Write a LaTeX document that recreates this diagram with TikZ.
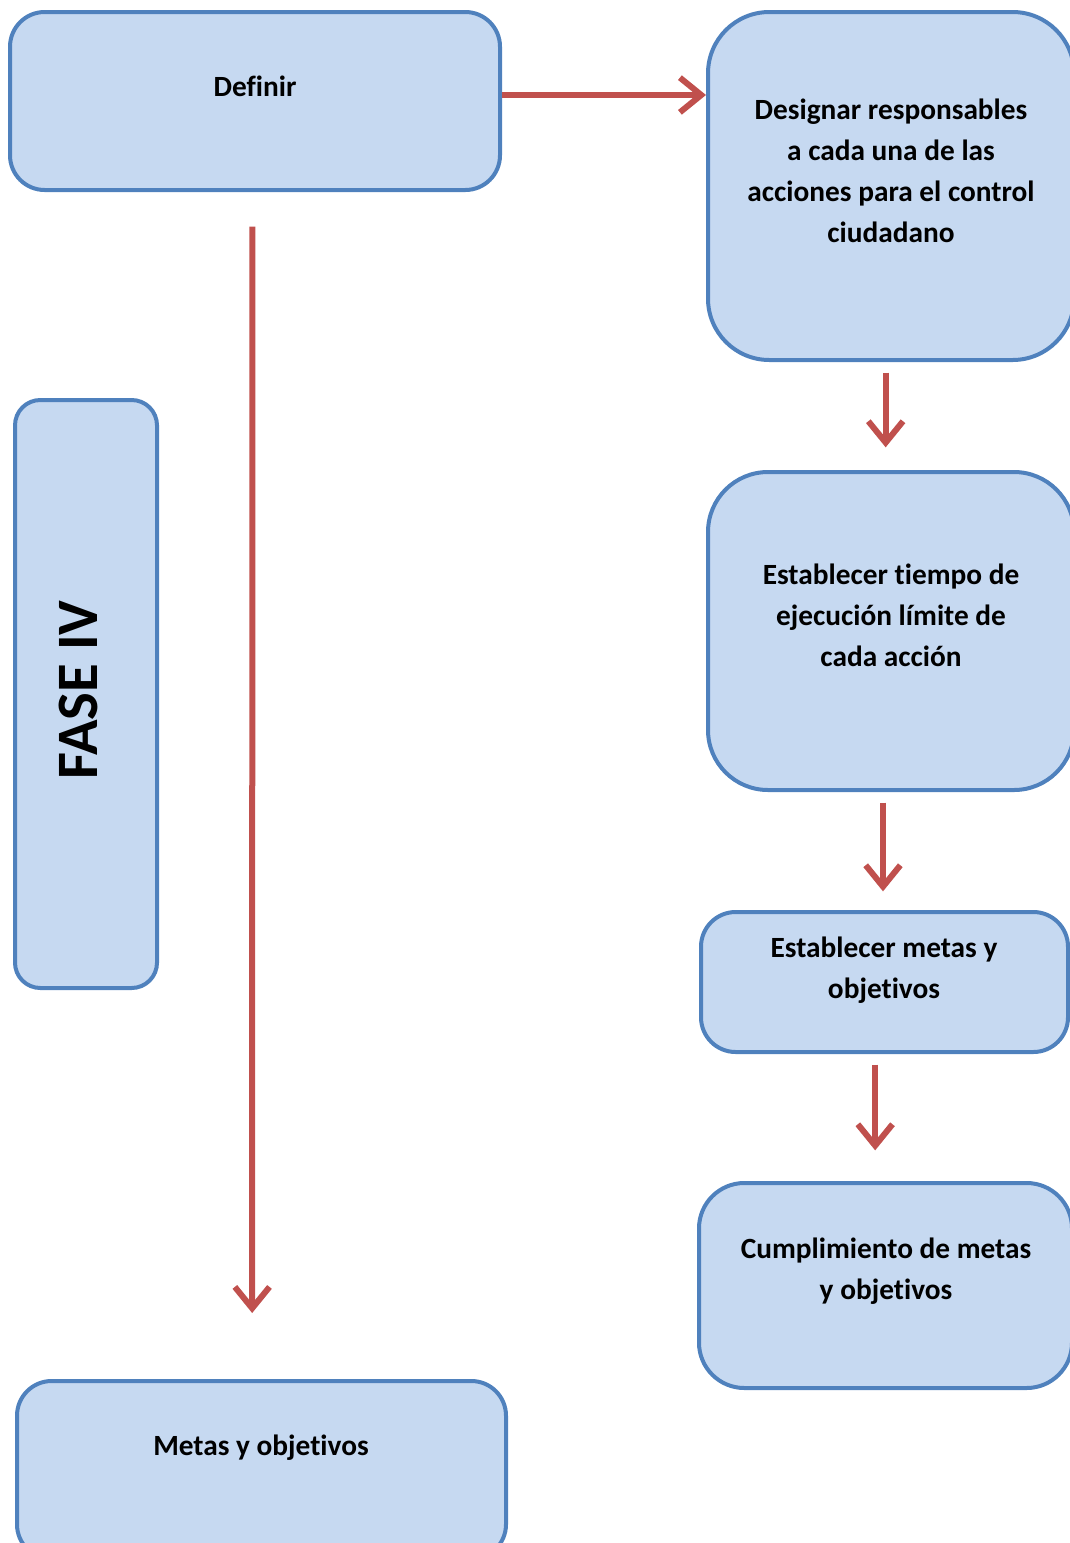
\documentclass[tikz,border=0pt]{standalone}
\usepackage{fontspec}
\setmainfont[Ligatures=NoCommon]{Carlito}
\usetikzlibrary{arrows.meta}

\definecolor{boxfill}{HTML}{C6D9F1}
\definecolor{boxline}{HTML}{4F81BD}
\definecolor{arrred}{HTML}{C0504D}

\tikzset{
    box/.style={draw=boxline, fill=boxfill, line width=3pt, rectangle, rounded corners=#1},
    box/.default=26pt,
    txt/.style={align=center, font=\fontsize{22}{30.75}\selectfont\bfseries},
    arr/.style={draw=arrred, line width=4.5pt, -{Straight Barb[length=16pt,width=26pt]}}
}

\begin{document}
\begin{tikzpicture}[x=0.75pt, y=-0.75pt]
            \useasboundingbox (0,0) rectangle (1070,1543);
            \clip (0,0) rectangle (1070,1543);

            % cajas
            \node[box, minimum width=367.5pt, minimum height=133.5pt] (def) at (255,101) {};
            \node[box=46pt, minimum width=274.5pt, minimum height=261pt] (des) at (891,186) {};
            \node[box=45pt, minimum width=274.5pt, minimum height=238.5pt] (tie) at (891,631) {};
            \node[box, minimum width=275.25pt, minimum height=105pt] (met) at (884.5,982) {};
            \node[box=34pt, minimum width=279.75pt, minimum height=153.75pt] (cum) at (885.5,1285.5) {};
            \node[box, minimum width=366.75pt, minimum height=133.5pt] (obj) at (261.5,1470) {};
            \node[box=19pt, minimum width=106.5pt, minimum height=441pt] (fase) at (86,694) {};

            % textos
            \node[txt] (def-t) at (255,86) {Definir};
            \node[txt] (des-t) at (891,170.5) {Designar responsables\\a cada una de las\\acciones para el control\\ciudadano};
            \node[txt] (tie-t) at (891,615.5) {Establecer tiempo de\\ejecución límite de\\cada acción};
            \node[txt] (met-t) at (884,970.5) {Establecer metas y\\objetivos};
            \node[txt] (cum-t) at (886,1271) {Cumplimiento de metas\\y objetivos};
            \node[txt] (obj-t) at (261,1448) {Metas y objetivos};
            \node[rotate=90, font=\fontsize{44}{50}\selectfont\bfseries] (fase-t) at (78,690) {FASE IV};

            % flechas
            \draw[arr] ([yshift=4.5pt]def.east) -- ([yshift=4.5pt]def.east -| des.west);
            \draw[arr] ([xshift=-2pt, yshift=-26pt]def.south) -- ([xshift=-7pt, yshift=49.5pt]obj.north);

            \foreach \a/\b/\dx/\e in {des/tie/-4pt/17pt, tie/met/-6pt/14pt, met/cum/-7pt/23pt}
                \draw[arr] ([xshift=\dx, yshift=-8pt]\a.south) -- ([xshift=\dx, yshift=\e]\a.south |- \b.north);
        \end{tikzpicture}
\end{document}
